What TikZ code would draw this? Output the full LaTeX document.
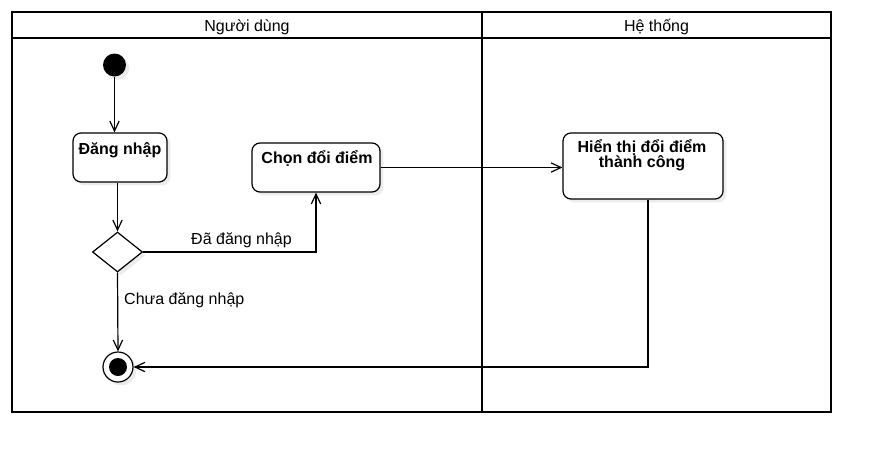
\documentclass[tikz,border=0pt]{standalone}
\usepackage{fontspec}
\setmainfont{Liberation Sans}
\usetikzlibrary{arrows.meta,shapes.geometric,shadows}

\tikzset{every picture/.style={line width=0.75pt}}
\tikzset{
  lane/.style={line width=2pt},
  shade3/.style={drop shadow={shadow xshift=2.5pt, shadow yshift=-2.5pt, opacity=0.15}},
  act/.style={draw, line width=0.9pt, rounded corners=6pt, fill=white, inner sep=0pt, shade3},
  acttext/.style={anchor=base, inner sep=0.75pt, align=center, font=\bfseries\fontsize{12}{11.25}\selectfont},
  lbl/.style={anchor=base, inner sep=0.75pt, font=\fontsize{12}{14}\selectfont},
  flow/.style={line width=0.9pt, -{Straight Barb[length=7.5pt,width=7pt]}},
}

\begin{document}
\begin{tikzpicture}[x=0.75pt,y=0.75pt,yscale=-1,xscale=1]
\useasboundingbox (0,0) rectangle (882,465);

%Swimlanes
\draw [lane] (12,12) rectangle (831,412);
\draw [lane] (12,38) -- (831,38);
\draw [lane] (482,12) -- (482,412);
% Text Node
\node [lbl] (laneuser) at (247,31) {Người dùng};
% Text Node
\node [lbl] (lanesys) at (656.5,31) {Hệ thống};

%Initial
\node [circle, fill=black, minimum size=17.25pt, inner sep=0pt, shade3] (start) at (114.5,65) {};

%Rounded Rect
\node [act, minimum width=70.5pt, minimum height=36.75pt] (login) at (120,157.5) {};
%Rounded Rect
\node [act, minimum width=96pt, minimum height=36.75pt] (choose) at (316,167.5) {};
%Rounded Rect
\node [act, minimum width=120pt, minimum height=49.5pt] (show) at (643,166) {};

% Text Node
\node [acttext] (logintxt) at (120,154) {Đăng nhập};
% Text Node
\node [acttext] (choosetxt) at (317,163) {Chọn đổi điểm};
% Text Node
\node [acttext] (showtxt) at (642,167.7) {Hiển thị đổi điểm\\thành công};

%Decision
\node [diamond, draw, fill=white, line width=0.9pt, minimum width=37.5pt, minimum height=30pt, inner sep=0pt, shade3] (check) at (117.5,252) {};

%Final
\node [circle, draw, fill=white, line width=0.9pt, minimum size=22.5pt, inner sep=0pt, shade3] (stop) at (118,367) {};
\fill (stop) circle (9);

%Flows
\draw [flow] (start) -- (start |- login.north);
\draw [flow] (check |- login.south) -- (check.north);
\draw [flow] (check.east) -| (choose.south);
\draw [flow] (check.south) -- (stop.north);
\draw [flow] (choose.east) -- (choose.east -| show.west);
\draw [flow] ([xshift=3.75pt]show.south) |- (stop.east);

% Text Node
\node [lbl] (yeslbl) at (241.5,244.3) {Đã đăng nhập};
% Text Node
\node [lbl, anchor=base west] (nolbl) at (122.7,304) {Chưa đăng nhập};

\end{tikzpicture}
\end{document}
